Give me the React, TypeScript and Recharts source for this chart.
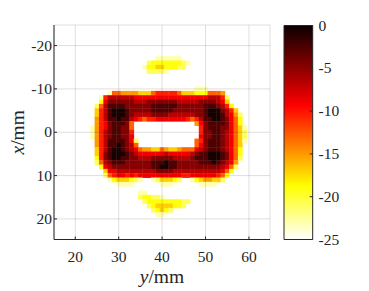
import React from 'react';
import { ScatterChart, Scatter, XAxis, YAxis, CartesianGrid, ReferenceArea } from 'recharts';

// ---------- axes / ticks ----------
const xTicks = [20, 30, 40, 50, 60];
const yTicks = [-20, -10, 0, 10, 20];
const cbTicks = [-25, -20, -15, -10, -5, 0];
const xDomain: [number, number] = [15.1, 64.85];
const yDomain: [number, number] = [-24.75, 24.75];
const cbDomain: [number, number] = [-25, 0];

// ---------- heat-map values (dB), one character per 1 mm cell ----------
const levelChars = '0123456789ab';
const levelValues = [-0.5, -2.5, -4.5, -6.5, -8.5, -10.5, -13, -15, -17, -19, -21, -23];

const rowY = [
  -17, -16, -15, -14, -10, -9, -8, -7, -6, -5, -4, -3, -2, -1, 0, 1, 2, 3, 4, 5, 6, 7, 8, 9, 10, 11, 12,
  14, 15, 16, 17, 18, 19,
];
const rowStart = [
  39, 37, 36, 37, 48, 28, 26, 26, 25, 25, 25, 25, 25, 24, 24, 24, 25, 25, 25, 25, 25, 25, 26, 27, 27, 28, 30,
  35, 35, 36, 37, 38, 39,
];
const rowCells = [
  'bbbbbb',
  'a9999999ab',
  'b9988999aa',
  'aaaab',
  'bbb',
  'b66777788865555568889996667',
  'b5333333' + '44444444444444444' + '3335a',
  '94222222' + '333' + '2222222' + '33333' + '2222' + '348',
  'a631111' + '222222' + '111111' + '222222' + '111' + '2359',
  '853100012222211111222222210002358',
  '853100012333322223333332210001347a',
  '7531101134565544444445653110012469',
  '754211126' + '..............' + '74211112469',
  'b754211226' + '...............' + '5211122468b',
  'b753211225' + '...............' + '5221123468a',
  'b753211224' + '...............' + '4221123468a',
  '753111124a' + '.............' + '6' + '5211123468b',
  '7531101236' + '.............' + '6' + '4211123468',
  '8531001234677886788766643211123469',
  '8521000123444444344444321100012469',
  '952100112233322222333321110001246a',
  'a63211122222211101122222111012347',
  '9432222222221100112222222222346a',
  '844333333333222233333333333469',
  'a6544545444444444455444444569',
  'b98889ab..ba8889a..b987788a',
  'bbbb......bbb......bbbb',
  'bb',
  'a99aab',
  'a99999999aa',
  'a9888899a',
  'a989a',
  'bb',
];

type Cell = { x: number; y: number; v: number };
const cells: Cell[] = [];
rowCells.forEach((row, r) => {
  for (let i = 0; i < row.length; i++) {
    const k = levelChars.indexOf(row[i]);
    if (k >= 0) cells.push({ x: rowStart[r] + i, y: rowY[r], v: levelValues[k] });
  }
});

// ---------- layout ----------
const W = 369;
const H = 291;
const PLOT_LEFT = 54;
const PLOT_TOP = 25;
const PLOT_W = 216;
const PLOT_H = 214.5;
const CB_LEFT = 284;
const CB_RIGHT = 312.7;
const AXIS_COLOR = '#262626';
const FONT = 'Liberation Serif';
const cellW = PLOT_W / (xDomain[1] - xDomain[0]);
const cellH = PLOT_H / (yDomain[1] - yDomain[0]);

// MATLAB "hot" colormap, 0 -> black, -25 -> white
function hot(v: number) {
  const p = Math.min(1, Math.max(0, -v / 25));
  const r = Math.min(1, (p + 1 / 64) / 0.375);
  const g = Math.min(1, Math.max(0, (p - 0.375) / 0.375));
  const b = Math.min(1, Math.max(0, (p - 0.75) / 0.25));
  return `rgb(${Math.round(r * 255)},${Math.round(g * 255)},${Math.round(b * 255)})`;
}

const CellShape = (props: any) => {
  const { cx, cy, payload } = props;
  if (cx == null || cy == null) return <g />;
  return (
    <rect
      x={cx - cellW / 2 - 0.2}
      y={cy - cellH / 2 - 0.2}
      width={cellW + 0.4}
      height={cellH + 0.4}
      fill={hot(payload.v)}
    />
  );
};

const XTick = (props: any) => {
  const { x, y, payload } = props;
  return (
    <text x={x} y={y} dy={10.7} textAnchor="middle" fontFamily={FONT} fontSize={15.5} fill={AXIS_COLOR}>
      {String(payload.value)}
    </text>
  );
};

const YTick = (props: any) => {
  const { x, y, payload } = props;
  return (
    <text x={x} y={y} dy={5} textAnchor="end" fontFamily={FONT} fontSize={15.5} fill={AXIS_COLOR}>
      {String(payload.value)}
    </text>
  );
};

const CbTick = (props: any) => {
  const { x, y, payload } = props;
  return (
    <text x={x} y={y} dy={5} textAnchor="start" fontFamily={FONT} fontSize={15.5} fill={AXIS_COLOR}>
      {String(payload.value)}
    </text>
  );
};

const XLabel = (props: any) => {
  const vb = props.viewBox || { x: PLOT_LEFT, y: PLOT_TOP + PLOT_H, width: PLOT_W, height: 51.5 };
  return (
    <text
      x={vb.x + vb.width / 2}
      y={vb.y + 43.5}
      textAnchor="middle"
      fontFamily={FONT}
      fontSize={19.5}
      fill={AXIS_COLOR}
    >
      <tspan fontStyle="italic">y</tspan>
      <tspan>/mm</tspan>
    </text>
  );
};

const YLabel = (props: any) => {
  const vb = props.viewBox || { x: 0, y: PLOT_TOP, width: PLOT_LEFT, height: PLOT_H };
  const x = 24;
  const y = vb.y + vb.height / 2;
  return (
    <text
      x={x}
      y={y}
      transform={`rotate(-90, ${x}, ${y})`}
      textAnchor="middle"
      fontFamily={FONT}
      fontSize={19.5}
      fill={AXIS_COLOR}
    >
      <tspan fontStyle="italic">x</tspan>
      <tspan>/mm</tspan>
    </text>
  );
};

const layer: React.CSSProperties = { position: 'absolute', left: 0, top: 0 };

export default function App() {
  return (
    <div style={{ position: 'absolute', left: 0, top: 0, width: W, height: H, background: '#fff' }}>
      {/* cells */}
      <div style={layer}>
        <ScatterChart
          width={W}
          height={H}
          margin={{ top: PLOT_TOP, right: W - PLOT_LEFT - PLOT_W, bottom: H - PLOT_TOP - PLOT_H, left: PLOT_LEFT }}
        >
          <XAxis dataKey="x" type="number" domain={xDomain} allowDataOverflow hide />
          <YAxis dataKey="y" type="number" domain={yDomain} allowDataOverflow reversed hide />
          <Scatter data={cells} shape={CellShape} isAnimationActive={false} />
        </ScatterChart>
      </div>

      {/* grid, box and axes on top */}
      <div style={layer}>
        <ScatterChart
          width={W}
          height={H}
          margin={{ top: PLOT_TOP, right: W - PLOT_LEFT - PLOT_W, bottom: 0, left: 0 }}
        >
          <CartesianGrid stroke={AXIS_COLOR} strokeOpacity={0.15} />
          <XAxis
            dataKey="x"
            type="number"
            domain={xDomain}
            ticks={xTicks}
            allowDataOverflow
            height={H - PLOT_TOP - PLOT_H}
            tickSize={-3}
            tickMargin={14.5}
            tick={<XTick />}
            axisLine={{ stroke: AXIS_COLOR }}
            tickLine={{ stroke: AXIS_COLOR }}
            label={<XLabel />}
          />
          <XAxis
            xAxisId="top"
            orientation="top"
            dataKey="x"
            type="number"
            domain={xDomain}
            ticks={xTicks}
            allowDataOverflow
            height={0}
            tickSize={-3}
            tick={false}
            axisLine={{ stroke: AXIS_COLOR }}
            tickLine={{ stroke: AXIS_COLOR }}
          />
          <YAxis
            dataKey="y"
            type="number"
            domain={yDomain}
            ticks={yTicks}
            allowDataOverflow
            reversed
            width={PLOT_LEFT}
            tickSize={-3}
            tickMargin={5}
            tick={<YTick />}
            axisLine={{ stroke: AXIS_COLOR }}
            tickLine={{ stroke: AXIS_COLOR }}
            label={<YLabel />}
          />
          <YAxis
            yAxisId="right"
            orientation="right"
            dataKey="y"
            type="number"
            domain={yDomain}
            ticks={yTicks}
            allowDataOverflow
            reversed
            width={0}
            tickSize={-3}
            tick={false}
            axisLine={{ stroke: AXIS_COLOR }}
            tickLine={{ stroke: AXIS_COLOR }}
          />
          <Scatter data={[]} isAnimationActive={false} />
        </ScatterChart>
      </div>

      {/* colorbar */}
      <div style={layer}>
        <ScatterChart width={W} height={H} margin={{ top: 25.5, right: 0, bottom: 51.5, left: CB_LEFT }}>
          <defs>
            <linearGradient id="hotGrad" x1="0" y1="0" x2="0" y2="1">
              <stop offset="0" stopColor="rgb(11,0,0)" />
              <stop offset="0.375" stopColor="rgb(255,0,0)" />
              <stop offset="0.75" stopColor="rgb(255,255,0)" />
              <stop offset="1" stopColor="rgb(255,255,255)" />
            </linearGradient>
          </defs>
          <XAxis type="number" dataKey="x" domain={[0, 1]} allowDataOverflow hide />
          <YAxis
            orientation="right"
            dataKey="y"
            type="number"
            domain={cbDomain}
            ticks={cbTicks}
            allowDataOverflow
            width={W - CB_RIGHT}
            tickSize={-3}
            tickMargin={8.8}
            tick={<CbTick />}
            axisLine={false}
            tickLine={{ stroke: AXIS_COLOR }}
          />
          <ReferenceArea
            x1={0}
            x2={1}
            y1={cbDomain[0]}
            y2={cbDomain[1]}
            fill="url(#hotGrad)"
            fillOpacity={1}
            stroke={AXIS_COLOR}
            strokeOpacity={1}
            ifOverflow="visible"
          />
          <Scatter data={[]} isAnimationActive={false} />
        </ScatterChart>
      </div>
    </div>
  );
}
